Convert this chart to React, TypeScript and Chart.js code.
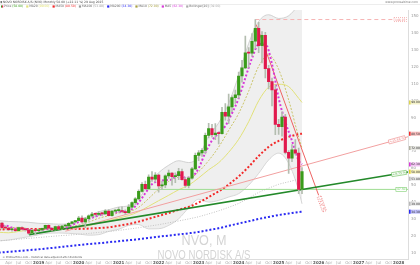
import React, { useEffect, useRef } from 'react';
import { Chart, registerables } from 'chart.js';

Chart.register(...registerables);

// month index 0 = Jan 2018 (monthly candles, split-adjusted USD)
const firstYear = 2018;

const opens = [
  26.9, 27.6, 24.8, 24.6, 23.6, 23.6, 23.1, 24.8, 24.0, 23.6, 21.6, 23.3,
  23.0, 23.5, 24.4, 26.2, 24.5, 23.5, 25.5, 24.0, 25.8, 25.9, 27.4, 28.3,
  29.0, 30.5, 28.3, 30.1, 31.8, 32.8, 32.7, 33.1, 33.0, 34.7, 32.0, 34.6,
  34.9, 34.9, 34.4, 33.7, 37.0, 39.7, 41.9, 46.3, 50.5, 48.0, 54.8, 53.6,
  56.0, 49.6, 50.2, 55.5, 57.1, 55.0, 55.7, 58.1, 53.3, 49.8, 54.2, 59.7,
  67.7, 69.1, 70.6, 79.5, 83.5, 80.0, 80.9, 80.5, 93.1, 90.9, 96.4, 101.9,
  103.5, 114.7, 119.5, 128.4, 128.2, 135.3, 142.9, 132.7, 138.8, 119.1, 111.4, 106.5,
  86.0, 84.7, 90.4, 69.4, 66.0, 71.0, 69.0, 47.5,
];
const highs = [
  29.0, 27.8, 26.0, 25.0, 24.3, 24.0, 25.2, 25.3, 24.6, 23.8, 23.9, 23.6,
  24.0, 24.6, 26.4, 26.5, 24.7, 25.7, 26.2, 26.2, 26.8, 27.8, 28.6, 29.2,
  31.6, 31.8, 31.0, 32.5, 33.9, 33.5, 34.2, 33.9, 35.6, 35.5, 34.9, 35.5,
  36.8, 37.1, 35.4, 38.5, 40.2, 42.7, 47.2, 51.5, 52.5, 56.2, 58.0, 57.5,
  56.6, 52.4, 56.2, 59.0, 57.5, 57.3, 60.0, 59.5, 54.7, 55.0, 60.6, 69.0,
  70.5, 71.7, 80.8, 86.6, 86.0, 86.5, 81.5, 96.2, 98.3, 104.0, 103.0, 106.3,
  117.0, 124.0, 138.3, 131.5, 139.8, 148.15, 146.5, 141.0, 140.5, 121.0, 113.5, 109.0,
  89.0, 93.5, 92.0, 70.5, 74.0, 77.0, 72.0, 60.5,
];
const lows = [
  26.6, 24.0, 23.9, 23.0, 22.8, 22.6, 22.9, 23.6, 22.8, 20.8, 21.3, 20.6,
  22.3, 22.9, 24.0, 23.6, 22.9, 23.3, 23.8, 23.6, 25.0, 25.3, 26.9, 27.5,
  28.8, 27.5, 24.8, 28.6, 31.0, 31.2, 32.0, 32.0, 32.8, 31.8, 31.6, 33.8,
  34.0, 33.9, 32.7, 33.5, 36.4, 38.6, 41.5, 45.8, 47.5, 47.6, 52.2, 52.0,
  45.8, 47.4, 48.5, 54.0, 50.0, 51.5, 53.3, 53.0, 48.6, 48.3, 53.5, 59.2,
  64.5, 67.0, 68.5, 78.0, 78.5, 77.0, 74.5, 80.2, 88.5, 86.5, 93.5, 98.5,
  101.5, 111.0, 119.0, 119.8, 126.5, 131.0, 128.5, 122.5, 113.5, 107.0, 97.0, 80.0,
  80.1, 79.0, 68.5, 57.0, 64.0, 68.0, 45.0, 45.0,
];
const closes = [
  27.6, 24.8, 24.6, 23.6, 23.6, 23.1, 24.8, 24.0, 23.6, 21.6, 23.3, 23.0,
  23.5, 24.4, 26.2, 24.5, 23.5, 25.5, 24.0, 25.8, 25.9, 27.4, 28.3, 29.0,
  30.5, 28.3, 30.1, 31.8, 32.8, 32.7, 33.1, 33.0, 34.7, 32.0, 34.6, 34.9,
  34.9, 34.4, 33.7, 37.0, 39.7, 41.9, 46.3, 50.5, 48.0, 54.8, 53.6, 56.0,
  49.6, 50.2, 55.5, 57.1, 55.0, 55.7, 58.1, 53.3, 49.8, 54.2, 59.7, 67.7,
  69.1, 70.6, 79.5, 83.5, 80.0, 80.9, 80.5, 93.1, 90.9, 96.4, 101.9, 103.5,
  114.7, 119.5, 128.4, 128.2, 135.3, 142.9, 132.7, 138.8, 119.1, 111.4, 106.5, 86.0,
  84.7, 90.4, 69.4, 66.0, 71.0, 69.0, 47.5, 58.0,
];

// indicator lines at sample months
const ma5Months = [0, 2, 4, 6, 8, 10, 12, 14, 16, 18, 20, 22, 24, 26, 28, 30, 32, 34, 36, 38, 40, 42, 44, 46, 48, 50, 52, 54, 56, 58, 60, 62, 64, 66, 68, 70, 72, 74, 76, 78, 80, 82, 84, 86, 88, 90, 91];
const ma5Values = [25.9, 26.0, 24.8, 23.9, 23.8, 23.5, 23.0, 24.1, 24.4, 24.7, 24.9, 26.3, 28.2, 29.2, 30.7, 32.1, 33.3, 33.5, 34.2, 34.5, 35.9, 39.7, 45.3, 50.6, 52.4, 53.0, 53.5, 56.3, 54.4, 55.0, 60.1, 69.3, 76.5, 80.9, 85.1, 92.6, 101.5, 113.6, 125.2, 133.5, 133.8, 121.7, 101.5, 87.4, 76.3, 64.6, 62.3];

const sampleMonths = [0, 3, 6, 9, 12, 15, 18, 21, 24, 27, 30, 33, 36, 39, 42, 45, 48, 51, 54, 57, 60, 63, 66, 69, 72, 75, 78, 81, 84, 87, 90, 91];
const ma10Values = [23.7, 24.7, 25.0, 24.1, 23.4, 23.9, 24.0, 25.1, 26.4, 28.1, 30.4, 31.9, 33.5, 34.2, 36.9, 42.1, 47.7, 52.2, 54.6, 53.9, 58.0, 64.6, 72.6, 82.5, 92.5, 105.7, 120.4, 127.1, 118.6, 100.5, 78.5, 72.0];
const ma20Values = [22.1, 21.8, 22.6, 23.4, 24.0, 24.4, 24.3, 24.3, 25.1, 26.0, 27.5, 29.0, 30.5, 32.0, 34.3, 37.5, 40.8, 44.0, 47.3, 50.0, 54.3, 59.1, 63.3, 69.5, 77.2, 87.6, 100.0, 108.1, 109.8, 108.4, 101.5, 99.0];
const ma50Values = [23.7, 23.9, 24.0, 24.0, 24.0, 24.2, 24.2, 24.2, 24.1, 24.3, 24.6, 25.0, 26.0, 27.0, 28.4, 30.1, 31.8, 33.5, 35.4, 37.1, 39.7, 43.0, 46.3, 50.4, 55.2, 60.9, 67.3, 72.7, 76.2, 78.6, 80.2, 80.5];
const ma100Values = [17.0, 17.5, 18.0, 18.5, 19.0, 19.5, 20.0, 20.4, 20.9, 21.4, 22.0, 22.6, 23.2, 24.0, 24.8, 25.7, 26.6, 27.7, 28.8, 30.0, 31.3, 33.0, 34.8, 36.9, 39.2, 42.4, 45.7, 48.2, 50.5, 52.0, 53.5, 53.8];
const ma200Values = [10.0, 10.5, 11.0, 11.5, 12.0, 12.6, 13.2, 13.9, 14.5, 15.1, 15.6, 16.2, 16.8, 17.4, 18.0, 18.7, 19.5, 20.1, 20.8, 21.5, 22.3, 23.4, 24.5, 25.9, 27.3, 28.6, 30.0, 31.2, 32.3, 33.2, 34.1, 34.3];
const bbUpperValues = [29.0, 28.5, 28.3, 28.0, 27.4, 27.2, 26.9, 27.1, 29.1, 31.6, 34.3, 35.4, 37.1, 37.8, 41.9, 50.9, 57.4, 61.8, 64.5, 63.4, 66.9, 79.0, 86.9, 98.5, 115.0, 134.0, 147.0, 151.0, 148.8, 150.4, 157.0, 160.0];
const bbLowerValues = [17.0, 17.5, 18.5, 19.5, 20.6, 21.6, 21.7, 21.5, 21.1, 20.4, 20.7, 22.6, 23.9, 26.2, 26.7, 24.1, 24.2, 26.2, 30.1, 36.6, 41.7, 40.0, 41.0, 43.0, 45.0, 50.0, 57.0, 65.0, 69.0, 63.0, 47.0, 39.0];

// drawn trend lines (month, price)
const supportMonths = [9.1, 122.8];
const supportValues = [20.7, 57.8];
const risingMonths = [20, 122.8];
const risingValues = [22.7, 78.7];
const flatMonths = [44, 122.8];
const flatValues = [47.5, 47.5];
const downMonths = [77.3, 96];
const downValues = [145, 44];
const athMonths = [77, 122.8];
const athValues = [148.15, 148.15];

const trendLabels = { rising: '+25.86 %', support: '+9.73 %', flat: '47.50', down: '-72.37 %', ath: '148.15' };

const tickMonthNames = ['', 'Apr', 'Jul', 'Oct'];
const yTickValues = [10, 20, 30, 40, 50, 60, 70, 80, 90, 100, 110, 120, 130, 140, 150];

const headerTitle = 'NOVO NORDISK A/S (NVO) Monthly 58.00 (+22.11 %) 29 Aug 2025';
const headerSite = 'www.prorealtime.com';
const footerText = '© ProRealTime.com - Historical data adjusted after dividends';
const watermarkTicker = 'NVO, M';
const watermarkName = 'NOVO NORDISK A/S';

const GREEN = '#3a9c1b';
const RED = '#e1194d';
const C_MA20 = '#e2e27a';
const C_MA50 = '#f22a2a';
const C_MA100 = '#c2c2c2';
const C_MA200 = '#2a2af2';
const C_MA10 = '#cbc46a';
const C_MA5 = '#d83ad8';
const C_BB = '#c8c8c8';

const pts = (xs: number[], ys: number[]) => xs.map((x, i) => ({ x, y: ys[i] }));
const last = (a: number[]) => a[a.length - 1];

function labelBox(ctx: any, x: number, y: number, angle: number, text: string, color: string, align: string, dashed?: boolean) {
  ctx.save();
  ctx.translate(x, y);
  ctx.rotate(angle);
  ctx.font = '3px "DejaVu Sans"';
  const w = ctx.measureText(text).width + 2;
  const h = 4;
  const x0 = align === 'end' ? -w : 0;
  ctx.fillStyle = 'rgba(255,255,255,0.92)';
  ctx.fillRect(x0, -h / 2, w, h);
  ctx.strokeStyle = color;
  ctx.lineWidth = 0.6;
  if (dashed) ctx.setLineDash([1, 1]);
  ctx.strokeRect(x0, -h / 2, w, h);
  ctx.fillStyle = color;
  ctx.textAlign = 'left';
  ctx.textBaseline = 'middle';
  ctx.fillText(text, x0 + 1, 0.2);
  ctx.restore();
}

const decor = {
  id: 'decor',
  beforeDatasetsDraw(chart: any) {
    const { ctx, chartArea } = chart;
    const cx = (chartArea.left + chartArea.right) / 2;
    ctx.save();
    ctx.fillStyle = '#d4d4d4';
    ctx.textAlign = 'center';
    ctx.textBaseline = 'alphabetic';
    ctx.translate(cx, 245);
    ctx.scale(0.9, 1);
    ctx.font = '14px "Liberation Sans"';
    ctx.fillText(watermarkTicker, 0, 0);
    ctx.restore();
    ctx.save();
    ctx.fillStyle = '#d4d4d4';
    ctx.textAlign = 'center';
    ctx.textBaseline = 'alphabetic';
    ctx.translate(cx, 258.5);
    ctx.scale(0.74, 1);
    ctx.font = '13px "Liberation Sans"';
    ctx.fillText(watermarkName, 0, 0);
    ctx.restore();
  },
  afterDraw(chart: any) {
    const { ctx, chartArea, scales } = chart;
    const xs = scales.x;
    const ys = scales.y;
    const px = (m: number) => xs.getPixelForValue(m);
    const py = (v: number) => ys.getPixelForValue(v);
    ctx.save();
    // header
    ctx.fillStyle = '#e2e2e2';
    ctx.fillRect(0, 4.2, 420, 0.6);
    ctx.font = '3px "DejaVu Sans"';
    ctx.textBaseline = 'middle';
    ctx.textAlign = 'left';
    ctx.fillStyle = '#777';
    ctx.fillRect(0.5, 1, 1.6, 2.2);
    ctx.fillStyle = '#4a4a4a';
    ctx.fillText(headerTitle, 3, 2.3);
    ctx.textAlign = 'right';
    ctx.fillStyle = '#777';
    ctx.fillText(headerSite, 418, 2.3);
    // legend
    const legend = [
      { label: 'Price', value: last(closes), color: 'price' },
      { label: 'MA20', value: last(ma20Values), color: C_MA20 },
      { label: 'MA50', value: last(ma50Values), color: C_MA50 },
      { label: 'MA100', value: last(ma100Values), color: '#999999' },
      { label: 'MA200', value: last(ma200Values), color: C_MA200 },
      { label: 'MA10', value: last(ma10Values), color: '#a8a040' },
      { label: 'MA5', value: last(ma5Values), color: C_MA5 },
      { label: 'Bollinger[20]', value: last(bbLowerValues), color: '#aaaaaa' },
    ];
    let lx = 1;
    ctx.textAlign = 'left';
    legend.forEach((it) => {
      if (it.color === 'price') {
        ctx.fillStyle = GREEN;
        ctx.fillRect(lx, 5.4, 1.1, 2.2);
        ctx.fillStyle = RED;
        ctx.fillRect(lx + 1.1, 5.4, 1.1, 2.2);
      } else {
        ctx.fillStyle = it.color;
        ctx.fillRect(lx, 5.4, 2.2, 2.2);
      }
      lx += 3;
      ctx.fillStyle = '#666';
      const t1 = it.label + ' ';
      ctx.fillText(t1, lx, 6.6);
      lx += ctx.measureText(t1).width;
      const t2 = '(' + it.value.toFixed(2) + ')';
      ctx.fillStyle = it.color === 'price' ? GREEN : it.color;
      ctx.fillText(t2, lx, 6.6);
      lx += ctx.measureText(t2).width + 3;
    });
    // footer
    ctx.fillStyle = '#555';
    ctx.font = '2.6px "DejaVu Sans"';
    ctx.fillText(footerText, 2.5, 257.8);
    ctx.restore();

    // trend labels
    const angleOf = (mx: number[], vy: number[]) => Math.atan2(py(vy[1]) - py(vy[0]), px(mx[1]) - px(mx[0]));
    const endAt = (mx: number[], vy: number[], back: number) => {
      const a = angleOf(mx, vy);
      return { x: px(mx[1]) - Math.cos(a) * back, y: py(vy[1]) - Math.sin(a) * back, a };
    };
    let e = endAt(risingMonths, risingValues, 3);
    labelBox(ctx, e.x, e.y, e.a, trendLabels.rising, '#ee8c8c', 'end');
    e = endAt(supportMonths, supportValues, 1.5);
    labelBox(ctx, e.x, e.y, e.a, trendLabels.support, '#6cbf5a', 'end');
    e = endAt(flatMonths, flatValues, 1.5);
    labelBox(ctx, e.x, e.y, e.a, trendLabels.flat, '#7fcf72', 'end');
    e = endAt(athMonths, athValues, 1.5);
    labelBox(ctx, e.x, e.y, e.a, trendLabels.ath, '#ef8a8a', 'end', true);
    const da = angleOf(downMonths, downValues);
    labelBox(ctx, px(downMonths[1]) + Math.cos(da) * 1.5, py(downValues[1]) + Math.sin(da) * 1.5, da, trendLabels.down, '#ea5a5a', 'start', true);

    // right axis value boxes
    const boxes = [
      { v: last(ma20Values), c: '#dcd450' },
      { v: last(ma50Values), c: C_MA50 },
      { v: last(ma10Values), c: '#b0b0a0' },
      { v: last(ma5Values), c: C_MA5 },
      { v: last(closes), c: '#e0cf20' },
      { v: last(ma100Values), c: '#b8b8b8' },
      { v: last(bbLowerValues), c: '#b8b8b8' },
      { v: last(ma200Values), c: C_MA200 },
    ];
    ctx.save();
    ctx.font = '3px "DejaVu Sans"';
    ctx.textBaseline = 'middle';
    ctx.textAlign = 'left';
    boxes.forEach((b) => {
      const y = py(b.v);
      const x0 = chartArea.right + 1;
      ctx.fillStyle = '#ffffff';
      ctx.fillRect(x0, y - 2, 420 - x0, 4);
      ctx.globalAlpha = 0.3;
      ctx.fillStyle = b.c;
      ctx.fillRect(x0, y - 2, 420 - x0, 4);
      ctx.globalAlpha = 1;
      ctx.fillRect(x0, y - 2, 1.5, 4);
      ctx.fillStyle = '#333';
      ctx.fillText(b.v.toFixed(3), x0 + 2.2, y + 0.2);
    });
    ctx.restore();
  },
};

export default function App() {
  const canvasRef = useRef<HTMLCanvasElement | null>(null);

  useEffect(() => {
    document.body.style.margin = '0';
    const canvas = canvasRef.current;
    if (!canvas) return;

    const idx = closes.map((_, i) => i);
    const bodies = idx.map((i) => ({ x: i, y: [opens[i], closes[i]] }));
    const wicks = idx.map((i) => ({ x: i, y: [lows[i], highs[i]] }));
    const bodyColors = idx.map((i) => (closes[i] >= opens[i] ? GREEN : RED));

    const base = {
      type: 'line',
      pointRadius: 0,
      pointHoverRadius: 0,
      fill: false,
      cubicInterpolationMode: 'monotone',
      borderCapStyle: 'butt',
    };
    const straight = { type: 'line', pointRadius: 0, pointHoverRadius: 0, fill: false, tension: 0 };

    const chart = new Chart(canvas, {
      type: 'line',
      data: {
        datasets: [
          { ...base, label: 'bbUpper', data: pts(sampleMonths, bbUpperValues), borderColor: C_BB, borderWidth: 0.8, backgroundColor: 'rgba(224,224,224,0.5)', fill: '+1', order: 30 },
          { ...base, label: 'bbLower', data: pts(sampleMonths, bbLowerValues), borderColor: C_BB, borderWidth: 0.8, order: 30 },
          { ...base, label: 'MA200', data: pts(sampleMonths, ma200Values), borderColor: C_MA200, borderWidth: 2, borderDash: [2, 2], order: 20 },
          { ...base, label: 'MA100', data: pts(sampleMonths, ma100Values), borderColor: C_MA100, borderWidth: 1, borderDash: [1, 1.5], order: 20 },
          { ...base, label: 'MA50', data: pts(sampleMonths, ma50Values), borderColor: C_MA50, borderWidth: 2, borderDash: [2, 2], order: 19 },
          { ...base, label: 'MA20', data: pts(sampleMonths, ma20Values), borderColor: C_MA20, borderWidth: 1, order: 20 },
          { ...base, label: 'MA10', data: pts(sampleMonths, ma10Values), borderColor: C_MA10, borderWidth: 1, borderDash: [2, 1.5], order: 20 },
          { ...straight, label: 'ath', data: pts(athMonths, athValues), borderColor: '#f6b4b4', borderWidth: 1, borderDash: [4, 3], order: 15 },
          { ...straight, label: 'rising', data: pts(risingMonths, risingValues), borderColor: '#f2a0a0', borderWidth: 1, order: 14 },
          { ...straight, label: 'flat', data: pts(flatMonths, flatValues), borderColor: '#9edd92', borderWidth: 1, order: 14 },
          { ...straight, label: 'support', data: pts(supportMonths, supportValues), borderColor: '#23892a', borderWidth: 1.6, order: 13 },
          { ...straight, label: 'down', data: pts(downMonths, downValues), borderColor: '#ee6262', borderWidth: 1, order: 13 },
          { ...base, label: 'MA5', data: pts(ma5Months, ma5Values), borderColor: C_MA5, borderWidth: 2, borderDash: [2, 2], order: 4 },
          { type: 'bar', label: 'wick', data: wicks, backgroundColor: '#b4bdb0', barThickness: 1, grouped: false, order: 3 },
          { type: 'bar', label: 'body', data: bodies, backgroundColor: bodyColors, barThickness: 2.5, grouped: false, minBarLength: 1, order: 2 },
        ],
      },
      options: {
        responsive: false,
        animation: false,
        devicePixelRatio: 1,
        layout: { padding: { top: 10, left: 0, right: 0, bottom: 0 } },
        plugins: { legend: { display: false }, tooltip: { enabled: false } },
        scales: {
          x: {
            type: 'linear',
            min: 0.4,
            max: 122.8,
            offset: false,
            grid: { display: false, drawTicks: false, offset: false },
            border: { display: true, color: '#dddddd' },
            afterBuildTicks: (scale: any) => {
              const t: any[] = [];
              for (let m = 3; m <= 120; m += 3) t.push({ value: m });
              scale.ticks = t;
            },
            afterFit: (scale: any) => { scale.height = 5; },
            ticks: {
              autoSkip: false,
              maxRotation: 0,
              minRotation: 0,
              padding: 1,
              font: (c: any) => ({ size: 4, family: 'DejaVu Sans', weight: c.tick && c.tick.value % 12 === 0 ? 'bold' : 'normal' }),
              color: (c: any) => (c.tick && c.tick.value % 12 === 0 ? '#555' : '#aaa'),
              callback: (v: any) => (v % 12 === 0 ? String(firstYear + v / 12) : tickMonthNames[(v % 12) / 3]),
            },
          },
          y: {
            type: 'linear',
            position: 'right',
            min: 5.9,
            max: 153.8,
            grid: { display: false, drawTicks: false },
            border: { display: true, color: '#dddddd' },
            afterBuildTicks: (scale: any) => { scale.ticks = yTickValues.map((v) => ({ value: v })); },
            afterFit: (scale: any) => { scale.width = 12; },
            ticks: { padding: 3, font: { size: 4, family: 'DejaVu Sans' }, color: '#999', callback: (v: any) => String(v) },
          },
        },
      },
      plugins: [decor],
    } as any);

    return () => chart.destroy();
  }, []);

  return (
    <div style={{ width: 420, height: 265 }}>
      <canvas ref={canvasRef} width={420} height={265} style={{ display: 'block', width: 420, height: 265 }} />
    </div>
  );
}
